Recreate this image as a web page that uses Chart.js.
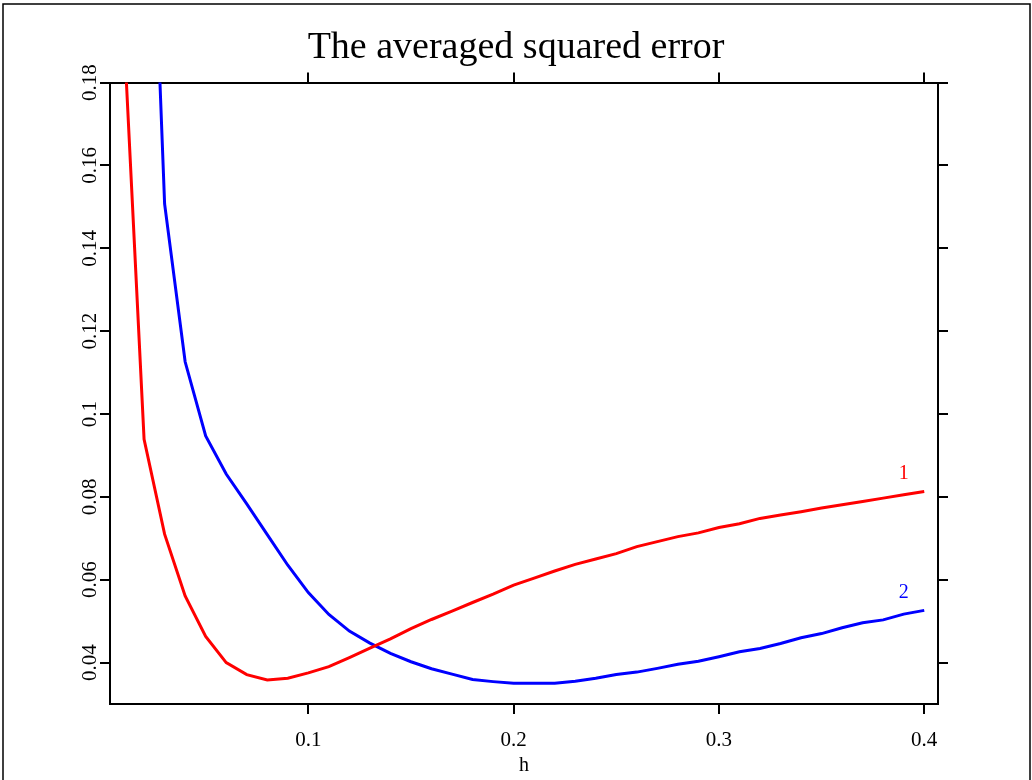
<!DOCTYPE html>
<html>
<head>
<meta charset="utf-8">
<title>The averaged squared error</title>
<script src="https://cdn.jsdelivr.net/npm/chart.js@4/dist/chart.umd.min.js"></script>
<style>
  body { margin: 0; background: #fff; }
  canvas { display: block; }
</style>
</head>
<body>
<canvas id="aseChart" width="1032" height="780"></canvas>
<script>
// bandwidth h
const hValues = [0.01, 0.02, 0.03, 0.04, 0.05, 0.06, 0.07, 0.08, 0.09, 0.10,
  0.11, 0.12, 0.13, 0.14, 0.15, 0.16, 0.17, 0.18, 0.19, 0.20,
  0.21, 0.22, 0.23, 0.24, 0.25, 0.26, 0.27, 0.28, 0.29, 0.30,
  0.31, 0.32, 0.33, 0.34, 0.35, 0.36, 0.37, 0.38, 0.39, 0.40];

// curve 1 (red)
const ase1 = [0.194, 0.0939, 0.0710, 0.0561, 0.0463, 0.0400, 0.0371, 0.0358, 0.0362, 0.0375,
  0.0390, 0.0412, 0.0435, 0.0457, 0.0482, 0.0504, 0.0524, 0.0545, 0.0565, 0.0587,
  0.0604, 0.0621, 0.0637, 0.0650, 0.0663, 0.0680, 0.0692, 0.0704, 0.0713, 0.0726,
  0.0735, 0.0748, 0.0756, 0.0764, 0.0773, 0.0781, 0.0789, 0.0797, 0.0805, 0.0813];

// curve 2 (blue), first value is off the top of the plot
const ase2 = [null, 0.280, 0.1507, 0.1126, 0.0947, 0.0855, 0.0783, 0.0709, 0.0635, 0.0569,
  0.0516, 0.0476, 0.0447, 0.0422, 0.0402, 0.0385, 0.0372, 0.0359, 0.0354, 0.0350,
  0.0350, 0.0350, 0.0355, 0.0362, 0.0371, 0.0377, 0.0386, 0.0396, 0.0403, 0.0414,
  0.0426, 0.0434, 0.0446, 0.0460, 0.0470, 0.0484, 0.0496, 0.0503, 0.0517, 0.0526];

const curveNames = ['1', '2'];
const curveColors = ['#ff0000', '#0000ff'];

const xTicks = [0.1, 0.2, 0.3, 0.4];
const yTicks = [0.04, 0.06, 0.08, 0.1, 0.12, 0.14, 0.16, 0.18];

const serif = "'Liberation Serif', 'Times New Roman', Times, serif";
Chart.defaults.font.family = serif;
Chart.defaults.color = '#000';

const toPoints = (ys) => hValues.map((h, i) => ({ x: h, y: ys[i] }));

const tickGrid = {
  display: true,
  drawOnChartArea: false,
  drawTicks: true,
  tickLength: 10,
  color: '#000',
  lineWidth: 2
};
const axisBorder = { display: true, color: '#000', width: 2 };

// outer frame and the rotated y labels / curve labels
const extras = {
  id: 'extras',
  afterDraw(chart) {
    const ctx = chart.ctx;
    const y = chart.scales.y;
    ctx.save();
    ctx.strokeStyle = '#000';
    ctx.lineWidth = 1.5;
    ctx.beginPath();
    ctx.moveTo(3, 800);
    ctx.lineTo(3, 4);
    ctx.lineTo(1030, 4);
    ctx.lineTo(1030, 800);
    ctx.stroke();

    ctx.fillStyle = '#000';
    ctx.font = '21px ' + serif;
    ctx.textAlign = 'center';
    ctx.textBaseline = 'middle';
    yTicks.forEach(v => {
      ctx.save();
      ctx.translate(90, y.getPixelForValue(v));
      ctx.rotate(-Math.PI / 2);
      ctx.fillText(String(v), 0, 0);
      ctx.restore();
    });

    ctx.font = '20px ' + serif;
    chart.data.datasets.forEach((ds, i) => {
      const pt = chart.getDatasetMeta(i).data[hValues.length - 2];
      ctx.fillStyle = curveColors[i];
      ctx.fillText(curveNames[i], pt.x, pt.y - 21);
    });
    ctx.restore();
  }
};

new Chart(document.getElementById('aseChart'), {
  type: 'line',
  data: {
    datasets: [
      { label: curveNames[0], data: toPoints(ase1), borderColor: curveColors[0], borderWidth: 3, pointRadius: 0, tension: 0 },
      { label: curveNames[1], data: toPoints(ase2), borderColor: curveColors[1], borderWidth: 3, pointRadius: 0, tension: 0 }
    ]
  },
  options: {
    responsive: false,
    animation: false,
    layout: { padding: 0 },
    plugins: {
      legend: { display: false },
      tooltip: { enabled: false },
      title: {
        display: true,
        text: 'The averaged squared error',
        font: { size: 38, weight: 'normal', family: serif },
        color: '#000',
        padding: { top: 25, bottom: 2 }
      }
    },
    scales: {
      x: {
        type: 'linear',
        position: 'bottom',
        min: 0.0034,
        max: 0.4067,
        afterBuildTicks: s => { s.ticks = xTicks.map(v => ({ value: v })); },
        afterFit: s => { s.height = 76; },
        ticks: { font: { size: 21 }, padding: 14, maxRotation: 0, callback: v => String(v) },
        grid: tickGrid,
        border: axisBorder,
        title: { display: true, text: 'h', font: { size: 20 }, padding: { top: 0, bottom: 2 } }
      },
      x2: {
        type: 'linear',
        position: 'top',
        min: 0.0034,
        max: 0.4067,
        afterBuildTicks: s => { s.ticks = xTicks.map(v => ({ value: v })); },
        afterFit: s => { s.height = 10; },
        ticks: { display: false },
        grid: tickGrid,
        border: axisBorder
      },
      y: {
        type: 'linear',
        position: 'left',
        min: 0.03,
        max: 0.18,
        afterBuildTicks: s => { s.ticks = yTicks.map(v => ({ value: v })); },
        afterFit: s => { s.width = 110; },
        ticks: { display: false },
        grid: tickGrid,
        border: axisBorder
      },
      y2: {
        type: 'linear',
        position: 'right',
        min: 0.03,
        max: 0.18,
        afterBuildTicks: s => { s.ticks = yTicks.map(v => ({ value: v })); },
        afterFit: s => { s.width = 94; },
        ticks: { display: false },
        grid: tickGrid,
        border: axisBorder
      }
    }
  },
  plugins: [extras]
});
</script>
</body>
</html>
